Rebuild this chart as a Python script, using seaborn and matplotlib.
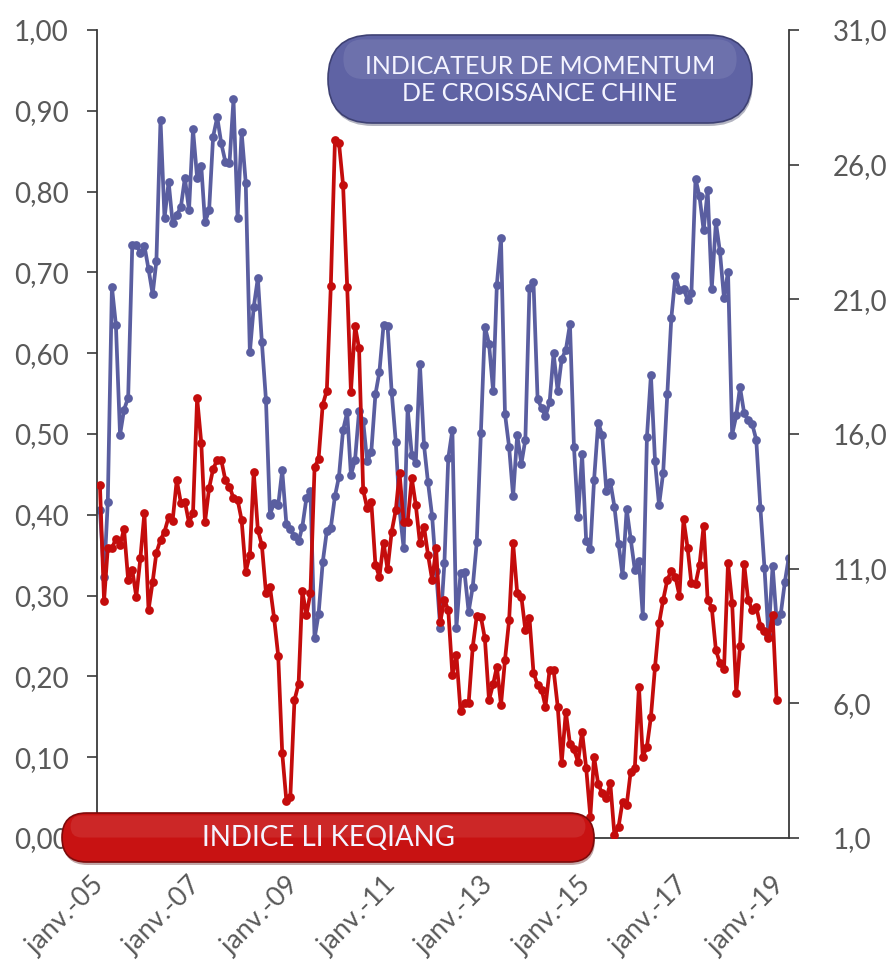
import numpy as np
import pandas as pd
import matplotlib
matplotlib.use("Agg")
import matplotlib.pyplot as plt
from matplotlib.patches import FancyBboxPatch
from matplotlib.transforms import IdentityTransform
import seaborn as sns

# Monthly series, starting January 2005
momentum = [
    0.406, 0.323, 0.416, 0.682, 0.635, 0.499, 0.530, 0.545, 0.734, 0.734, 0.724, 0.733,
    0.704, 0.673, 0.714, 0.889, 0.767, 0.812, 0.761, 0.771, 0.781, 0.817, 0.777, 0.877,
    0.817, 0.832, 0.762, 0.777, 0.868, 0.892, 0.860, 0.837, 0.835, 0.914, 0.767, 0.874,
    0.811, 0.601, 0.657, 0.693, 0.614, 0.542,
    0.400, 0.415, 0.412, 0.455, 0.389, 0.382, 0.374, 0.367, 0.385, 0.421, 0.430, 0.247,
    0.277, 0.341, 0.380, 0.384, 0.423, 0.447, 0.505, 0.527, 0.449,
    0.468, 0.528, 0.516, 0.466, 0.478, 0.549, 0.577, 0.635, 0.634,
    0.552, 0.490, 0.406, 0.359, 0.532, 0.474, 0.464, 0.587, 0.486, 0.440, 0.398, 0.330,
    0.260, 0.340, 0.470, 0.505, 0.260, 0.328, 0.329, 0.280, 0.311, 0.366, 0.501, 0.633,
    0.612, 0.553, 0.685, 0.742, 0.525, 0.484, 0.423, 0.499,
    0.463, 0.493, 0.681, 0.688, 0.543, 0.532, 0.522, 0.539, 0.600, 0.553,
    0.593, 0.604, 0.636, 0.484, 0.397, 0.475, 0.367, 0.358, 0.443, 0.514,
    0.499, 0.430, 0.441, 0.410, 0.364, 0.325, 0.407, 0.370, 0.332, 0.343,
    0.275, 0.496, 0.573, 0.466, 0.412, 0.452, 0.550, 0.643, 0.696, 0.678,
    0.680, 0.666, 0.674, 0.816, 0.794, 0.752, 0.802, 0.680, 0.762, 0.726,
    0.668, 0.701, 0.499, 0.523, 0.558, 0.526, 0.517, 0.512, 0.493, 0.409,
    0.334, 0.250, 0.337, 0.269, 0.277, 0.317, 0.346,
]

li_keqiang = [
    14.11, 9.81, 11.77, 11.77, 12.10, 11.88, 12.47, 10.58, 10.95, 9.96, 11.40, 13.07,
    9.47, 10.51, 11.59, 12.07, 12.37, 12.92, 12.78, 14.29, 13.44, 13.49, 12.70, 13.07,
    17.33, 15.68, 12.73, 13.99, 14.70, 15.04, 15.04, 14.29, 14.05, 13.62, 13.55, 12.81,
    10.89, 11.51, 14.60, 12.44, 11.88, 10.10, 10.33, 9.17, 7.76, 4.16, 2.39, 2.53,
    6.12, 6.72, 10.18, 9.28, 10.10, 14.78, 15.07, 17.08, 17.61, 21.50, 26.90, 26.82,
    25.25, 21.47, 17.57, 20.02, 19.18,
    13.92, 13.24, 13.49, 11.14, 10.70, 11.97, 10.98, 12.37, 13.18, 14.56, 12.74, 12.74,
    14.36, 13.37, 11.96, 12.56, 11.51, 10.58, 11.75, 9.03, 9.84, 9.47, 7.05, 7.80,
    5.72, 6.00, 6.00, 8.10, 9.24, 9.21, 8.41, 6.12, 6.71, 7.36, 5.94, 7.61,
    9.09, 11.96, 10.08, 9.96, 8.72, 9.16, 7.14, 6.68, 6.50, 5.88, 7.24, 7.24,
    5.88, 3.80, 5.69, 4.49, 4.29, 3.83, 4.95, 3.59, 1.79,
    4.02, 3.00, 2.66, 2.47, 3.03, 1.11, 1.42, 2.35, 2.23, 3.46, 3.59, 6.62,
    4.02, 4.39, 5.50, 7.36, 8.97, 9.84, 10.58, 10.92, 10.70, 9.99, 12.83, 11.75,
    10.45, 10.43, 11.14, 12.60, 9.84, 9.55, 7.98, 7.49, 7.27, 11.22, 9.71, 6.37,
    8.13, 11.19, 9.84, 9.47, 9.59, 8.87, 8.70, 8.42, 9.28, 6.12,
]

tick_years = [2005, 2007, 2009, 2011, 2013, 2015, 2017, 2019]
tick_labels = ["janv.-05", "janv.-07", "janv.-09", "janv.-11",
               "janv.-13", "janv.-15", "janv.-17", "janv.-19"]
left_ticks = [0.0, 0.1, 0.2, 0.3, 0.4, 0.5, 0.6, 0.7, 0.8, 0.9, 1.0]
left_labels = ["0,00", "0,10", "0,20", "0,30", "0,40", "0,50",
               "0,60", "0,70", "0,80", "0,90", "1,00"]
right_ticks = [1, 6, 11, 16, 21, 26, 31]
right_labels = ["1,0", "6,0", "11,0", "16,0", "21,0", "26,0", "31,0"]

momentum_title = "INDICATEUR DE MOMENTUM\nDE CROISSANCE CHINE"
li_title = "INDICE LI KEQIANG"

BLUE = "#5A5EA0"
RED = "#C40C0C"
GREY = "#595959"
AXIS = "#3A3A3A"

df_mom = pd.DataFrame({
    "date": pd.date_range("2005-01-01", periods=len(momentum), freq="MS"),
    "value": momentum,
})
df_li = pd.DataFrame({
    "date": pd.date_range("2005-01-01", periods=len(li_keqiang), freq="MS"),
    "value": li_keqiang,
})

sns.set_style("white")
plt.rcParams["font.family"] = ["Lato", "DejaVu Sans"]

W, H = 893, 960
fig = plt.figure(figsize=(W / 100, H / 100), dpi=100)
fig.patch.set_facecolor("white")

x0, x1, ytop, ybot = 97, 789, 30, 838
ax = fig.add_axes([x0 / W, 1 - ybot / H, (x1 - x0) / W, (ybot - ytop) / H])
ax2 = ax.twinx()

line_kw = dict(lw=2.7, marker="o", markersize=6.3, markeredgewidth=0)
sns.lineplot(data=df_mom, x="date", y="value", ax=ax, color=BLUE,
             markerfacecolor=BLUE, **line_kw)
sns.lineplot(data=df_li, x="date", y="value", ax=ax2, color=RED,
             markerfacecolor=RED, **line_kw)

ax.set_xlim(pd.Timestamp("2004-12-10"), pd.Timestamp("2019-03-04"))
ax.set_ylim(0, 1.0)
ax2.set_ylim(1, 31)

ax.set_yticks(left_ticks)
ax.set_yticklabels(left_labels)
ax2.set_yticks(right_ticks)
ax2.set_yticklabels(right_labels)
ax.set_xticks([pd.Timestamp(f"{y}-01-01") for y in tick_years])
ax.set_xticklabels(tick_labels, rotation=45, ha="right", va="center",
                   rotation_mode="anchor")

for a in (ax, ax2):
    a.set_xlabel("")
    a.set_ylabel("")
    a.grid(False)
    a.spines["top"].set_visible(False)
    for s in a.spines.values():
        s.set_color(AXIS)
        s.set_linewidth(1.3)

ax.spines["right"].set_visible(False)
ax2.spines["left"].set_visible(False)
ax2.spines["bottom"].set_visible(False)

ax.tick_params(axis="y", direction="out", length=7.5, width=1.2, color=AXIS,
               labelsize=20, labelcolor=GREY, pad=13)
ax.tick_params(axis="x", direction="out", length=7.5, width=1.2, color=AXIS,
               labelsize=19.5, labelcolor=GREY, pad=24)
ax2.tick_params(axis="y", direction="out", length=7.5, width=1.2, color=AXIS,
                labelsize=20, labelcolor=GREY, pad=24, left=False)


def pill(xa, ya, xb, yb, face, edge, light, shadow, txt, size, lines_gap=1.2):
    """Rounded label box, coordinates in pixels measured from the top-left."""
    w, h = xb - xa, yb - ya
    r = h / 2
    tr = IdentityTransform()
    # soft drop shadow
    fig.add_artist(FancyBboxPatch((xa + 1, H - yb - 3), w, h,
                                  boxstyle=f"round,pad=0,rounding_size={r}",
                                  transform=tr, facecolor=shadow, edgecolor="none",
                                  alpha=0.35, zorder=5))
    fig.add_artist(FancyBboxPatch((xa, H - yb), w, h,
                                  boxstyle=f"round,pad=0,rounding_size={r}",
                                  transform=tr, facecolor=face, edgecolor=edge,
                                  linewidth=1.2, zorder=6))
    # subtle lighter upper band
    hh = h * 0.45
    fig.add_artist(FancyBboxPatch((xa + r * 0.35, H - ya - hh - h * 0.05), w - r * 0.7, hh,
                                  boxstyle=f"round,pad=0,rounding_size={hh / 2}",
                                  transform=tr, facecolor=light, edgecolor="none",
                                  alpha=0.09, zorder=7))
    fig.text((xa + xb) / 2, H - (ya + yb) / 2 - 1, txt, transform=tr,
             ha="center", va="center", fontsize=size, color="#F4F4FF",
             linespacing=lines_gap, zorder=8)


pill(328, 35, 752, 123, "#5F63A4", "#3E4173", "#FFFFFF", "#2A2C50",
     momentum_title, 18)
pill(62, 813, 594, 862, "#C81212", "#7E0A0A", "#FFFFFF", "#500000",
     li_title, 20)

fig.savefig("out.png", dpi=100, facecolor="white")
